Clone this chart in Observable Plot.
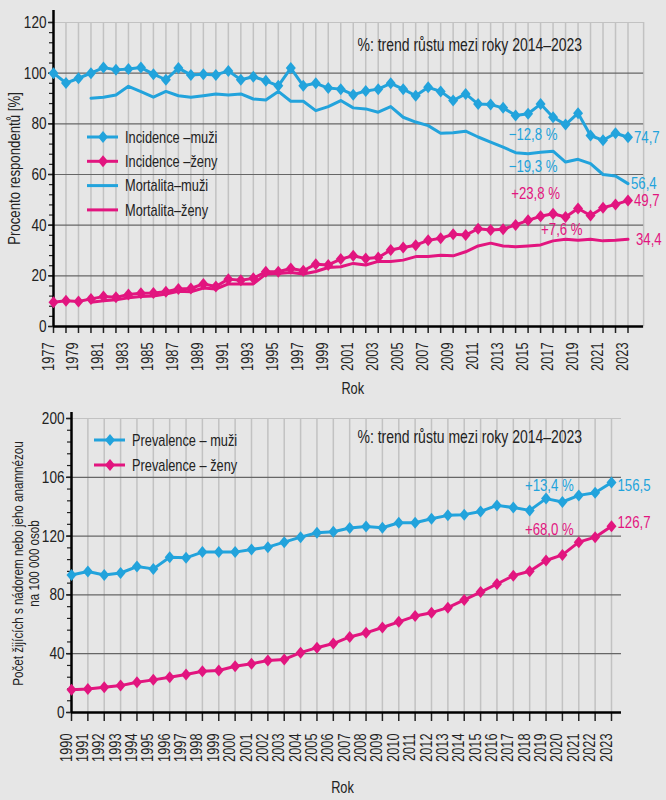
<!DOCTYPE html>
<html><head><meta charset="utf-8">
<script src="https://cdn.jsdelivr.net/npm/d3@7"></script>
<script src="https://cdn.jsdelivr.net/npm/@observablehq/plot@0.6"></script>
<style>
html,body{margin:0;padding:0;background:#e6e6e6;}
#wrap{width:666px;height:800px;background:#e6e6e6;overflow:hidden;}
svg{display:block}
</style></head><body><div id="wrap"></div>
<script>
// ---------- DATA ----------
const yearsTop = d3.range(1977, 2024);
const yearsMort = d3.range(1980, 2024);
const yearsBottom = d3.range(1990, 2024);
const yearLabelsTop = yearsTop.filter(y => y % 2 === 1);

const incidenceMuzi = [100.0, 96.1, 98.0, 100.0, 102.2, 101.3, 101.6, 102.2, 99.6, 97.4, 102.0, 99.3, 99.6, 99.3, 100.9, 97.4, 98.6, 97.0, 95.0, 102.0, 95.0, 96.0, 94.1,
  93.7, 91.5, 93.0, 93.7, 96.0, 93.7, 91.1, 94.4, 92.8, 89.2, 91.8, 87.8, 87.6, 86.3, 83.3, 84.0, 87.8, 82.6, 79.7, 84.2, 75.4, 73.5, 76.3, 74.7];
const incidenceZeny = [9.6, 10.2, 9.9, 10.9, 11.8, 11.5, 12.6, 13.1, 13.2, 13.7, 14.8, 15.0, 16.8, 15.8, 18.7, 18.3, 19.0, 21.6, 21.6, 22.9, 22.0, 24.6, 24.3,
  26.6, 27.9, 26.8, 27.2, 30.2, 31.2, 32.1, 34.0, 34.8, 36.4, 36.1, 38.6, 38.1, 38.4, 40.1, 41.9, 43.5, 44.5, 43.2, 46.6, 43.8, 46.9, 48.2, 49.7];
const mortalitaMuzi = [90.1, 90.5, 91.4, 94.8, 92.7, 90.5, 92.8, 91.1, 90.5, 91.1, 91.8, 91.4, 91.8, 89.8, 89.4, 92.8, 88.9, 88.9, 85.2, 86.8,
  89.2, 86.3, 85.9, 84.6, 86.8, 82.6, 80.7, 79.3, 76.3, 76.5, 77.1, 74.8, 72.8, 70.8, 68.6, 68.2, 68.8, 69.2, 64.9, 66.0, 64.3, 60.0, 59.4, 56.4];
const mortalitaZeny = [9.6, 10.2, 10.6, 11.3, 11.8, 12.0, 12.8, 13.9, 13.7, 15.2, 14.8, 16.8, 16.8, 16.8, 20.7, 20.9, 21.3, 20.7, 21.7, 23.3,
  23.6, 24.9, 24.3, 25.7, 25.7, 26.2, 27.6, 27.6, 28.1, 27.9, 29.5, 31.8, 32.9, 31.8, 31.5, 31.8, 32.2, 33.8, 34.4, 34.0, 34.4, 33.8, 34.0, 34.4];

const prevalenceMuzi = [93.6, 95.9, 93.6, 94.9, 99.3, 97.7, 105.6, 105.2, 109.1, 109.1,
  109.1, 110.9, 112.5, 115.9, 119.3, 122.3, 123.0, 125.5, 126.6, 125.7,
  129.1, 129.1, 131.8, 134.1, 134.6, 136.8, 140.9, 139.4, 137.5, 145.5,
  143.2, 147.7, 149.5, 156.5];
const prevalenceZeny = [15.5, 16.0, 17.1, 18.3, 20.6, 22.2, 24.0, 25.8, 28.1, 28.6,
  31.5, 33.1, 35.4, 36.1, 40.7, 44.1, 46.9, 51.4, 54.2, 57.8,
  61.7, 65.6, 67.9, 71.3, 76.6, 81.9, 87.4, 93.1, 96.1, 103.4,
  107.2, 115.9, 119.3, 126.7];

const yTicksTop = [0, 20, 40, 60, 80, 100, 120];
const yTicksBottom = [0, 40, 80, 120, 160, 200];
const yTickLabelsBottom = ["0", "40", "80", "120", "106", "200"];

const legendTop = ["Incidence –muži", "Incidence –ženy", "Mortalita–muži", "Mortalita–ženy"];
const legendBottom = ["Prevalence – muži", "Prevalence – ženy"];
const noteText = "%: trend růstu mezi roky 2014–2023";

const trendTop = [
  {label: "−12,8 %", year: 2015.4, value: 75.8, s: "m"},
  {label: "−19,3 %", year: 2015.4, value: 63.2, s: "m"},
  {label: "+23,8 %", year: 2015.6, value: 52.5, s: "z"},
  {label: "+7,6 %", year: 2017.7, value: 38.3, s: "z"}
];
const trendBottom = [
  {label: "+13,4 %", year: 2019.2, value: 154, s: "m"},
  {label: "+68,0 %", year: 2019.2, value: 124, s: "z"}
];

// ---------- STYLE ----------
const BLUE = "#22a3dc";
const PINK = "#e2157f";
const FONT = "'Liberation Sans',Arial,sans-serif";
const DARK = "#666";
const LIGHT = "#c2c2c2";
const TXT = "#222";
const K = 0.8; // horizontal condensing of text

const diamond = {
  draw(ctx, size) {
    const r = Math.sqrt(size / Math.PI);
    const h = r * 1.2;
    ctx.moveTo(0, -h); ctx.lineTo(r, 0); ctx.lineTo(0, h); ctx.lineTo(-r, 0); ctx.closePath();
  }
};
const fmt = v => v.toFixed(1).replace(".", ",");
const series = (years, vals) => years.map((year, i) => ({year, value: vals[i]}));

const incM = series(yearsTop, incidenceMuzi);
const incZ = series(yearsTop, incidenceZeny);
const morM = series(yearsMort, mortalitaMuzi);
const morZ = series(yearsMort, mortalitaZeny);
const prevM = series(yearsBottom, prevalenceMuzi);
const prevZ = series(yearsBottom, prevalenceZeny);
const col = s => s === "m" ? BLUE : PINK;

function addLegend(svg, items, x0, y0, step) {
  const g = d3.select(svg).append("g").attr("font-family", FONT).attr("font-size", 16).attr("text-anchor", "start");
  items.forEach((it, i) => {
    const y = y0 + i * step;
    g.append("line").attr("x1", x0).attr("x2", x0 + 31).attr("y1", y).attr("y2", y)
      .attr("stroke", it.color).attr("stroke-width", 3);
    if (it.marker) g.append("path").attr("d", "M0,-6L5,0L0,6L-5,0Z")
      .attr("transform", `translate(${x0 + 16},${y})`).attr("fill", it.color);
    g.append("text").attr("transform", `translate(${x0 + 38},${y})`).attr("dy", "0.35em")
      .attr("fill", TXT).text(it.label);
  });
}

// compress each text horizontally along its own direction (narrow typeface look)
function condense(svg) {
  svg.querySelectorAll("text").forEach(t => {
    const tr = t.getAttribute("transform") || "";
    const xa = t.getAttribute("x");
    let pre = "";
    if (xa !== null && !isNaN(+xa)) { pre = `translate(${+xa},0)`; t.removeAttribute("x"); }
    t.setAttribute("transform", `${tr} ${pre} scale(${K},1)`);
  });
}

// ---------- TOP CHART ----------
const xEndTop = 2024.25;
const topChart = Plot.plot({
  width: 666, height: 397,
  marginLeft: 53, marginRight: 38.5, marginTop: 22, marginBottom: 71,
  style: {background: "transparent", fontFamily: FONT, fontSize: "16px", color: TXT, overflow: "visible"},
  x: {domain: [1977, 2023]},
  y: {domain: [0, 120]},
  marks: [
    Plot.ruleX(yearsTop.slice(1), {y1: 0, y2: 120, stroke: LIGHT, strokeWidth: 1.5}),
    Plot.ruleX([xEndTop], {y1: 0, y2: 120, stroke: LIGHT, strokeWidth: 1.5}),
    Plot.ruleY(yTicksTop.slice(1), {x1: 1977, x2: xEndTop, stroke: d => d === 120 ? LIGHT : DARK, strokeWidth: 1.2}),
    Plot.axisY({ticks: d3.range(0, 121, 4), tickSize: 4, tickFormat: () => "", label: null, strokeWidth: 1.2}),
    Plot.axisY({ticks: yTicksTop, tickSize: 5, tickPadding: 2, tickFormat: d => String(d), label: null, fontSize: 17, strokeWidth: 1.5}),
    Plot.axisX({ticks: yearsTop, tickSize: 7, tickFormat: () => "", label: null, strokeWidth: 1.5}),
    Plot.text(yearLabelsTop, {x: d => d, text: d => String(d), frameAnchor: "bottom", rotate: -90, textAnchor: "end", dy: 16, fontSize: 16, fill: TXT}),
    Plot.ruleY([0], {x1: 1977, x2: xEndTop, stroke: "#000", strokeWidth: 2.5}),
    Plot.ruleX([1977], {y1: 0, y2: 124.7, stroke: "#000", strokeWidth: 2.5}),
    Plot.line(morM, {x: "year", y: "value", stroke: BLUE, strokeWidth: 3}),
    Plot.line(morZ, {x: "year", y: "value", stroke: PINK, strokeWidth: 3}),
    Plot.line(incM, {x: "year", y: "value", stroke: BLUE, strokeWidth: 3}),
    Plot.dot(incM, {x: "year", y: "value", fill: BLUE, symbol: diamond, r: 5}),
    Plot.line(incZ, {x: "year", y: "value", stroke: PINK, strokeWidth: 3}),
    Plot.dot(incZ, {x: "year", y: "value", fill: PINK, symbol: diamond, r: 5}),
    Plot.text([incM.at(-1)], {x: "year", y: "value", text: d => fmt(d.value), fill: BLUE, dx: 6, textAnchor: "start", fontSize: 16.5}),
    Plot.text([morM.at(-1)], {x: "year", y: "value", text: d => fmt(d.value), fill: BLUE, dx: 3, textAnchor: "start", fontSize: 16.5}),
    Plot.text([incZ.at(-1)], {x: "year", y: "value", text: d => fmt(d.value), fill: PINK, dx: 6, textAnchor: "start", fontSize: 16.5}),
    Plot.text([morZ.at(-1)], {x: "year", y: "value", text: d => fmt(d.value), fill: PINK, dx: 8, textAnchor: "start", fontSize: 16.5}),
    Plot.text(trendTop, {x: "year", y: "value", text: "label", fill: d => col(d.s), fontSize: 16.5}),
    Plot.text([noteText], {frameAnchor: "top-left", dx: 304, dy: 16, textAnchor: "start", fontSize: 17.5, fill: TXT}),
    Plot.text(["Procento respondentů [%]"], {frameAnchor: "left", dx: -39, dy: -6, rotate: -90, textAnchor: "middle", fontSize: 16.5, fill: TXT}),
    Plot.text(["Rok"], {frameAnchor: "bottom", dx: 12, dy: 67, textAnchor: "middle", fontSize: 16, fill: TXT})
  ]
});
addLegend(topChart, [
  {label: legendTop[0], color: BLUE, marker: true},
  {label: legendTop[1], color: PINK, marker: true},
  {label: legendTop[2], color: BLUE, marker: false},
  {label: legendTop[3], color: PINK, marker: false}
], 87, 137, 24.3);

// ---------- BOTTOM CHART ----------
const xEndBottom = 2023.61;
const bottomChart = Plot.plot({
  width: 666, height: 403,
  marginLeft: 71, marginRight: 55, marginTop: 21, marginBottom: 88,
  style: {background: "transparent", fontFamily: FONT, fontSize: "16px", color: TXT, overflow: "visible"},
  x: {domain: [1990, 2023]},
  y: {domain: [0, 200]},
  marks: [
    Plot.ruleX(yearsBottom.slice(1), {y1: 0, y2: 200, stroke: LIGHT, strokeWidth: 1.5}),
    Plot.ruleY(yTicksBottom.slice(1), {x1: 1990, x2: xEndBottom, stroke: d => d === 200 ? LIGHT : DARK, strokeWidth: 1.2}),
    Plot.axisY({ticks: d3.range(0, 201, 8), tickSize: 4, tickFormat: () => "", label: null, strokeWidth: 1.2}),
    Plot.axisY({ticks: yTicksBottom, tickSize: 5, tickPadding: 2, tickFormat: d => yTickLabelsBottom[yTicksBottom.indexOf(d)], label: null, fontSize: 17, strokeWidth: 1.5}),
    Plot.axisX({ticks: yearsBottom, tickSize: 9, tickFormat: () => "", label: null, strokeWidth: 1.5}),
    Plot.text(yearsBottom, {x: d => d, text: d => String(d), frameAnchor: "bottom", rotate: -90, textAnchor: "end", dy: 21, fontSize: 16, fill: TXT}),
    Plot.ruleY([0], {x1: 1990, x2: xEndBottom, stroke: "#000", strokeWidth: 2.5}),
    Plot.ruleX([1990], {y1: 0, y2: 204, stroke: "#000", strokeWidth: 2.5}),
    Plot.line(prevM, {x: "year", y: "value", stroke: BLUE, strokeWidth: 3}),
    Plot.dot(prevM, {x: "year", y: "value", fill: BLUE, symbol: diamond, r: 5}),
    Plot.line(prevZ, {x: "year", y: "value", stroke: PINK, strokeWidth: 3}),
    Plot.dot(prevZ, {x: "year", y: "value", fill: PINK, symbol: diamond, r: 5}),
    Plot.text([prevM.at(-1)], {x: "year", y: "value", text: d => fmt(d.value), fill: BLUE, dx: 6, dy: 3, textAnchor: "start", fontSize: 16.5}),
    Plot.text([prevZ.at(-1)], {x: "year", y: "value", text: d => fmt(d.value), fill: PINK, dx: 6, dy: -4, textAnchor: "start", fontSize: 16.5}),
    Plot.text(trendBottom, {x: "year", y: "value", text: "label", fill: d => col(d.s), fontSize: 16.5}),
    Plot.text([noteText], {frameAnchor: "top-left", dx: 286, dy: 12, textAnchor: "start", fontSize: 17.5, fill: TXT}),
    Plot.text(["Počet žijících s nádorem nebo jeho anamnézou\nna 100 000 osob"], {frameAnchor: "left", dx: -46, dy: -2, rotate: -90, textAnchor: "middle", fontSize: 14.5, lineHeight: 1.15, fill: TXT}),
    Plot.text(["Rok"], {frameAnchor: "bottom", dx: 1, dy: 80, textAnchor: "middle", fontSize: 16, fill: TXT})
  ]
});
addLegend(bottomChart, [
  {label: legendBottom[0], color: BLUE, marker: true},
  {label: legendBottom[1], color: PINK, marker: true}
], 94, 43, 25);

condense(topChart);
condense(bottomChart);

const wrap = document.getElementById("wrap");
wrap.appendChild(topChart);
wrap.appendChild(bottomChart);
</script>
</body></html>
